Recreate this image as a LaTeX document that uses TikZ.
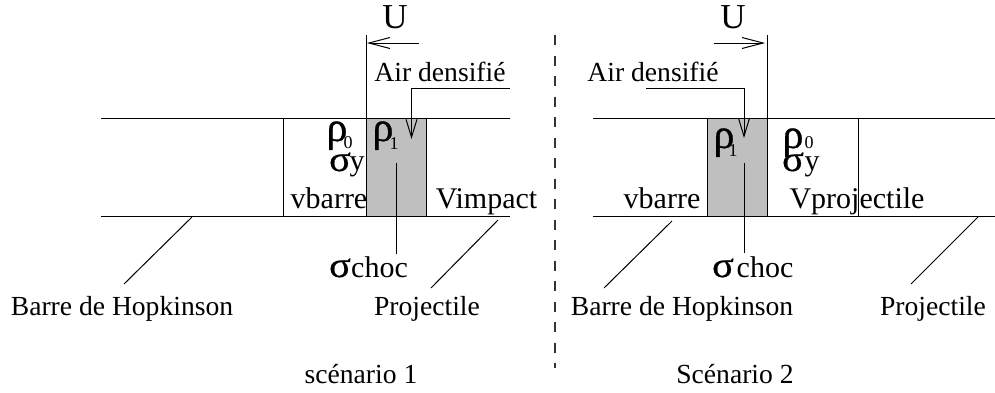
\documentclass[tikz,border=0pt]{standalone}
\usepackage{fontspec}
\setmainfont{Liberation Serif}
\newfontfamily\grec[FakeBold=0.6]{Liberation Serif}
\newfontfamily\grecl[FakeStretch=1.12, FakeBold=0.6]{Liberation Serif}
\usetikzlibrary{arrows.meta}
\tikzset{
    x=1pt, y=-1pt,
    lab/.style={inner sep=0pt, anchor=base, font=\fontsize{27.6}{30}\selectfont},
    big/.style={inner sep=0pt, anchor=base, font=\fontsize{30}{32}\selectfont},
    vit/.style={inner sep=0pt, anchor=base, font=\fontsize{35}{37}\selectfont},
    rho/.style={inner sep=0pt, anchor=base, font=\grec\fontsize{42}{44}\selectfont},
    sig/.style={inner sep=0pt, anchor=base, font=\grecl\fontsize{36}{38}\selectfont},
    idx/.style={inner sep=0pt, anchor=base, font=\fontsize{18}{20}\selectfont},
    fin/.style={line width=1pt},
    pointe/.style={-{Straight Barb[length=21pt, width=11pt]}},
    pointeair/.style={-{Straight Barb[length=18pt, width=11pt]}},
}
\begin{document}
\begin{tikzpicture}
    \useasboundingbox (0, 0) rectangle (995, 392);

    % scenario 1
    \fill[gray!50] (366, 118) rectangle (426, 216);
    \draw[fin] (366, 118) rectangle (426, 216);
    \draw[fin] (101, 118) -- (510, 118);
    \draw[fin] (101, 216) -- (510, 216);
    \draw[fin] (283, 118) -- (283, 216);
    \draw[fin] (366, 35) -- (366, 118);

    \node[vit] (uA) at (395, 28) {U};
    \coordinate (uAd) at (419, 43);
    \coordinate (uAf) at (367, 43);
    \draw[fin, pointe] (uAd) -- (uAf);

    \node[lab] (airA) at (440, 81) {Air densifié};
    \coordinate (airAd) at (510, 88);
    \coordinate (airAf) at (411.5, 139);
    \draw[fin, pointeair] (airAd) -| (airAf);

    \node[rho] (rhoA) at (337, 141) {ρ};
    \node[idx] (rhoAi) at (348, 148) {0};
    \node[rho] (rhoB) at (383, 141) {ρ};
    \node[idx] (rhoBi) at (394, 149) {1};
    \node[sig] (sigA) at (340, 171) {σ};
    \node[big] (yA) at (357, 170) {y};
    \node[big] (vbarreA) at (329, 208) {vbarre};
    \node[big] (vimpA) at (486.5, 208) {Vimpact};

    \node[sig] (sigB) at (340, 277) {σ};
    \node[big] (chocA) at (379.5, 277) {choc};
    \coordinate (sigAh) at (396, 163);
    \coordinate (sigAb) at (396, 254);
    \draw[fin] (sigAh) -- (sigAb);

    \node[lab] (barreA) at (122, 315) {Barre de Hopkinson};
    \node[lab] (projA) at (427, 315) {Projectile};
    \coordinate (barreAh) at (192, 217);
    \coordinate (barreAb) at (124, 284);
    \coordinate (projAh) at (498, 220);
    \coordinate (projAb) at (431, 288);
    \draw[fin] (barreAh) -- (barreAb);
    \draw[fin] (projAh) -- (projAb);
    \node[lab] (scenA) at (361, 383) {scénario 1};

    % separation
    \draw[line width=1.3pt, black!80, dash pattern=on 10pt off 10.5pt] (555, 35) -- (555, 368);

    % scenario 2
    \fill[gray!50] (707, 118) rectangle (767, 216);
    \draw[fin] (707, 118) rectangle (767, 216);
    \draw[fin] (593, 118) -- (995, 118);
    \draw[fin] (593, 216) -- (995, 216);
    \draw[fin] (858, 118) -- (858, 216);
    \draw[fin] (767, 35) -- (767, 118);

    \node[vit] (uB) at (733, 28) {U};
    \coordinate (uBd) at (714, 43);
    \coordinate (uBf) at (765, 43);
    \draw[fin, pointe] (uBd) -- (uBf);

    \node[lab] (airB) at (653, 81) {Air densifié};
    \coordinate (airBd) at (646, 88);
    \coordinate (airBf) at (744, 138);
    \draw[fin, pointeair] (airBd) -| (airBf);

    \node[rho] (rhoC) at (724, 148) {ρ};
    \node[idx] (rhoCi) at (733, 156) {1};
    \node[rho] (rhoD) at (793, 148) {ρ};
    \node[idx] (rhoDi) at (809, 148) {0};
    \node[sig] (sigC) at (793, 171) {σ};
    \node[big] (yB) at (812, 170) {y};
    \node[big] (vbarreB) at (662, 208) {vbarre};
    \node[big] (vprojB) at (857, 208) {Vprojectile};

    \node[sig] (sigD) at (723, 277) {σ};
    \node[big] (chocB) at (765, 277) {choc};
    \coordinate (sigBh) at (744, 163);
    \coordinate (sigBb) at (744, 253);
    \draw[fin] (sigBh) -- (sigBb);

    \node[lab] (barreB) at (682, 315) {Barre de Hopkinson};
    \node[lab] (projB) at (933, 315) {Projectile};
    \coordinate (barreBh) at (672, 221);
    \coordinate (barreBb) at (604, 288);
    \coordinate (projBh) at (978, 217);
    \coordinate (projBb) at (911, 284);
    \draw[fin] (barreBh) -- (barreBb);
    \draw[fin] (projBh) -- (projBb);
    \node[lab] (scenB) at (735, 383) {Scénario 2};
\end{tikzpicture}
\end{document}
